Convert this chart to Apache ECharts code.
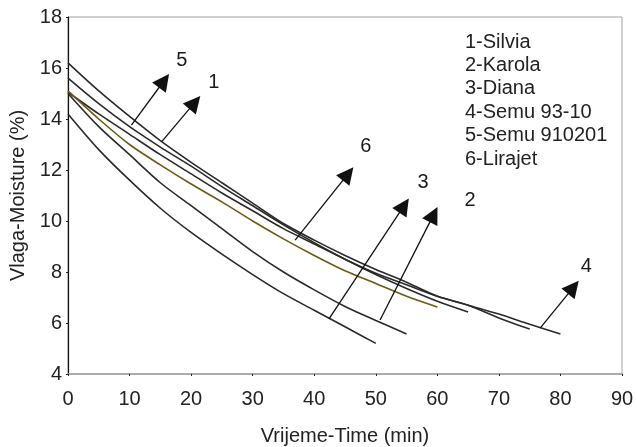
<!DOCTYPE html>
<html>
<head>
<meta charset="utf-8">
<script src="https://cdn.jsdelivr.net/npm/echarts@6/dist/echarts.min.js"></script>
<style>
  html, body { margin: 0; padding: 0; background: #fff; }
  #chart { width: 637px; height: 447px; }
</style>
</head>
<body>
<div id="chart"></div>
<script>
// ---- data ----
const times = [0, 5, 10, 15, 20, 25, 30, 35, 40, 45, 50, 55, 60, 65, 70, 75, 80];
const silvia     = [15.6, 14.6, 13.7, 12.9, 12.15, 11.35, 10.6, 9.85, 9.15, 8.5, 7.9, 7.35, 6.85, 6.43];
const karola     = [15.0, 13.7, 12.6, 11.5, 10.6, 9.7, 8.8, 8.0, 7.3, 6.65, 6.1, 5.57];
const diana      = [14.2, 12.8, 11.6, 10.5, 9.55, 8.7, 7.9, 7.15, 6.5, 5.85, 5.2];
const semu9310   = [15.05, 14.2, 13.4, 12.6, 11.85, 11.1, 10.4, 9.7, 9.1, 8.5, 7.95, 7.5, 7.05, 6.7, 6.35, 5.95, 5.57];
const semu910201 = [16.2, 15.1, 14.1, 13.15, 12.3, 11.5, 10.7, 9.9, 9.25, 8.65, 8.1, 7.6, 7.05, 6.7, 6.2, 5.76];
const lirajet    = [15.1, 14.0, 13.0, 12.2, 11.45, 10.75, 10.0, 9.3, 8.65, 8.05, 7.55, 7.05, 6.63];

const legendLines = ['1-Silvia', '2-Karola', '3-Diana', '4-Semu 93-10', '5-Semu 910201', '6-Lirajet'];

// annotation arrows (data coordinates)
const arrowLabels = ['5', '1', '6', '3', '2', '4'];
const arrowTail = [[10.3, 13.76], [15.2, 13.1], [36.9, 9.25], [42.4, 6.16], [50.7, 6.12], [76.7, 5.8]];
const arrowHead = [[15.6, 15.5], [20.6, 14.65], [45.5, 11.85], [54.6, 10.6], [59.4, 10.25], [82.1, 7.4]];
const labelPos  = [[18.5, 16.3], [23.7, 15.45], [48.4, 12.94], [57.7, 11.5], [65.3, 10.82], [84.2, 8.2]];

const xTicks = { min: 0, max: 90, interval: 10 };
const yTicks = { min: 4, max: 18, interval: 2 };

const FONT = 'Liberation Sans, Arial, sans-serif';
const FS = 20;

function pairs(vals) { return vals.map((v, i) => [times[i], v]); }

const curves = [
  { name: '1-Silvia', vals: silvia, color: '#2a2a2a' },
  { name: '2-Karola', vals: karola, color: '#2a2a2a' },
  { name: '3-Diana', vals: diana, color: '#2a2a2a' },
  { name: '4-Semu 93-10', vals: semu9310, color: '#2a2a2a' },
  { name: '5-Semu 910201', vals: semu910201, color: '#2a2a2a' },
  { name: '6-Lirajet', vals: lirajet, color: '#6b5c14' }
];

const series = curves.map(c => ({
  name: c.name,
  type: 'line',
  data: pairs(c.vals),
  showSymbol: false,
  smooth: 0.3,
  lineStyle: { color: c.color, width: 1.6 },
  z: 3
}));

series.push({
  name: 'arrows',
  type: 'scatter',
  data: labelPos.map((p, i) => ({ value: p, label: { formatter: arrowLabels[i] } })),
  symbolSize: 1,
  itemStyle: { color: 'rgba(0,0,0,0)', opacity: 1 },
  label: {
    show: true,
    position: 'inside',
    color: '#1a1a1a',
    opacity: 1,
    textBorderWidth: 0,
    fontFamily: FONT,
    fontSize: FS
  },
  markLine: {
    silent: true,
    animation: false,
    symbol: ['none', 'triangle'],
    symbolSize: 17,
    label: { show: false },
    lineStyle: { color: '#111', width: 1.3, type: 'solid' },
    itemStyle: { color: '#111' },
    data: arrowTail.map((t, i) => [{ coord: t }, { coord: arrowHead[i] }])
  },
  z: 5
});

const chart = echarts.init(document.getElementById('chart'), null, { renderer: 'canvas' });
chart.setOption({
  animation: false,
  backgroundColor: '#fff',
  grid: {
    left: 68, right: 15, top: 17, bottom: 73,
    containLabel: false,
    outerBoundsMode: 'none',
    show: true, borderColor: '#a0a0a0', borderWidth: 1, backgroundColor: 'transparent'
  },
  xAxis: {
    type: 'value',
    min: xTicks.min, max: xTicks.max, interval: xTicks.interval,
    name: 'Vrijeme-Time (min)',
    nameLocation: 'middle',
    nameGap: 52,
    nameTextStyle: { color: '#222', fontFamily: FONT, fontSize: FS },
    axisLine: { show: true, onZero: false, lineStyle: { color: '#a0a0a0', width: 1.5 } },
    axisTick: { show: true, length: 2, lineStyle: { color: '#222' } },
    axisLabel: { color: '#222', fontFamily: FONT, fontSize: FS, margin: 15 },
    splitLine: { show: false }
  },
  yAxis: {
    type: 'value',
    min: yTicks.min, max: yTicks.max, interval: yTicks.interval,
    name: 'Vlaga-Moisture (%)',
    nameLocation: 'middle',
    nameGap: 38,
    nameTextStyle: { color: '#222', fontFamily: FONT, fontSize: FS },
    axisLine: { show: true, lineStyle: { color: '#111', width: 1.2 } },
    axisTick: { show: true, length: 2, lineStyle: { color: '#222' } },
    axisLabel: { color: '#222', fontFamily: FONT, fontSize: FS, margin: 6 },
    splitLine: { show: false }
  },
  graphic: legendLines.map((t, i) => ({
    type: 'text',
    left: 465,
    top: 32 + i * 23.4,
    style: { text: t, fill: '#222', font: FS + 'px ' + FONT }
  })),
  series: series
});
</script>
</body>
</html>
